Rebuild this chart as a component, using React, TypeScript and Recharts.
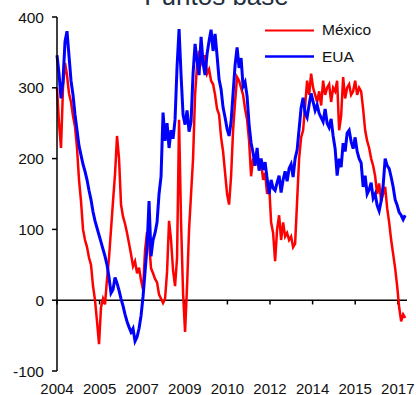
import React from 'react';
import { LineChart, Line, XAxis, YAxis, ReferenceLine } from 'recharts';

// spreads en puntos base, una observación cada ~4 semanas desde 2004.3
const T0 = 2004.3;
const STEP = 0.0775;

const MEXICO = [
  300, 250, 215, 300, 335, 318, 292, 280, 260, 245,
  215, 170, 140, 100, 85, 75, 60, 50, 20, 0,
  -30, -62, -10, 2, -6, 30, 60, 100, 140, 178,
  232, 200, 135, 118, 108, 95, 80, 65, 48, 55,
  38, 46, 28, 15, 70, 96, 82, 45, 38, 30,
  25, 8, 2, -4, 2, 40, 112, 85, 42, 20,
  60, 255, 110, 10, -45, 20, 100, 150, 200, 290,
  332, 352, 340, 330, 346, 320, 326, 310, 305, 290,
  270, 262, 230, 210, 180, 150, 135, 175, 240, 280,
  315, 310, 300, 290, 270, 255, 225, 175, 200, 190,
  210, 185, 195, 170, 180, 150, 165, 110, 95, 55,
  100, 120, 85, 110, 90, 95, 85, 90, 75, 80,
  140, 200, 230, 240, 275, 310, 290, 320, 300, 290,
  280, 295, 275, 310, 290, 300, 305, 280, 300, 295,
  310, 240, 260, 315, 285, 300, 305, 290, 295, 310,
  290, 300, 295, 270, 240, 225, 215, 200, 190, 175,
  150, 165, 140, 150, 160, 130, 110, 85, 65, 45,
  20, -10, -30, -20, -25,
];

const EUA = [
  346, 320, 285, 310, 365, 380, 345, 310, 290, 262,
  240, 218, 205, 192, 182, 170, 155, 142, 125, 112,
  102, 92, 82, 72, 62, 50, 32, 10, 15, 32,
  24, 14, 2, -8, -20, -30, -38, -45, -40, -58,
  -52, -40, -22, 5, 40, 75, 140, 62, 85, 95,
  110, 150, 175, 265, 225, 250, 215, 240, 228, 255,
  330, 383, 318, 262, 248, 268, 238, 252, 320, 362,
  338, 318, 372, 335, 318, 348, 366, 382, 352, 376,
  345, 312, 298, 272, 258, 242, 232, 252, 292, 332,
  357, 328, 342, 302, 308, 288, 248, 222, 208, 190,
  215, 183, 200, 184, 195, 172, 150, 170, 158, 155,
  166, 176, 152, 170, 182, 168, 186, 192, 174, 200,
  212, 242, 272, 286, 264, 258, 276, 292, 280, 268,
  276, 264, 258, 252, 270, 250, 244, 256, 232, 214,
  176, 200, 188, 222, 210, 236, 240, 224, 214, 230,
  210, 200, 194, 160, 176, 150, 156, 166, 144, 150,
  134, 126, 140, 162, 200, 190, 186, 174, 160, 142,
  134, 124, 120, 114, 120,
];

const X_TICKS = [2004.3, 2005.95, 2007.6, 2009.25, 2010.9, 2012.55, 2014.2, 2015.85, 2017.5];
const Y_TICKS = [-100, 0, 100, 200, 300, 400];

const FONT = '"Liberation Sans", Arial, sans-serif';

const data = MEXICO.map((m, i) => ({ t: T0 + i * STEP, mexico: m, eua: EUA[i] }));

export default function App() {
  return (
    <div style={{ position: 'absolute', left: 0, top: 0, width: 416, height: 395, background: '#fff', fontFamily: FONT }}>
      <LineChart width={416} height={395} data={data} margin={{ top: 17, right: 9, left: 0, bottom: 0 }}>
        <XAxis
          dataKey="t"
          type="number"
          domain={[2004.3, 2017.856]}
          ticks={X_TICKS}
          tickFormatter={(v: number) => String(Math.floor(v))}
          axisLine={false}
          tickLine={false}
          tickSize={6}
          tickMargin={6}
          height={24}
          tick={{ fill: '#111', fontSize: 15, fontFamily: FONT }}
          interval={0}
        />
        <YAxis
          domain={[-100, 400]}
          ticks={Y_TICKS}
          width={57}
          axisLine={{ stroke: '#000', strokeWidth: 1.5 }}
          tickLine={{ stroke: '#000', strokeWidth: 1.5 }}
          tickSize={5}
          tickMargin={8}
          tick={{ fill: '#111', fontSize: 15.5, fontFamily: FONT }}
          interval={0}
        />
        <ReferenceLine y={0} stroke="#000" strokeWidth={1.5} />
        {X_TICKS.map((t) => (
          <ReferenceLine key={t} segment={[{ x: t, y: 0 }, { x: t, y: -6 }]} stroke="#000" strokeWidth={1.5} />
        ))}
        <Line type="linear" dataKey="mexico" stroke="#FF0000" strokeWidth={2.5} dot={false} isAnimationActive={false} />
        <Line type="linear" dataKey="eua" stroke="#0000FF" strokeWidth={3} dot={false} isAnimationActive={false} />
      </LineChart>
      <svg width={416} height={395} style={{ position: 'absolute', left: 0, top: 0, pointerEvents: 'none' }}>
        <text x={216.5} y={5} textAnchor="middle" fontSize={26} fill="#243040" fontFamily={FONT}>Puntos base</text>
        <line x1={265} y1={30.5} x2={314} y2={30.5} stroke="#FF0000" strokeWidth={2} />
        <text x={322} y={34.5} fontSize={15.5} fill="#111" fontFamily={FONT}>México</text>
        <line x1={265} y1={56.5} x2={314} y2={56.5} stroke="#0000FF" strokeWidth={2.5} />
        <text x={322} y={61.5} fontSize={15.5} fill="#111" fontFamily={FONT}>EUA</text>
      </svg>
    </div>
  );
}
